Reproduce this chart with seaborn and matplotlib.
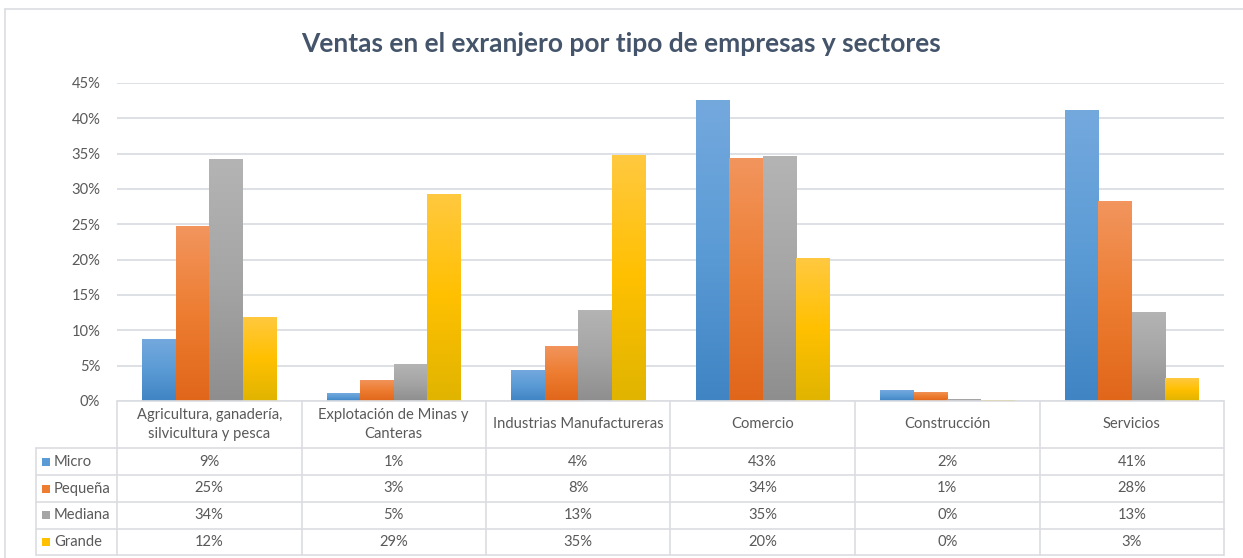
import numpy as np
import pandas as pd
import matplotlib
matplotlib.use("Agg")
import matplotlib.pyplot as plt
import seaborn as sns
from matplotlib.colors import LinearSegmentedColormap
from matplotlib.lines import Line2D
from matplotlib.patches import Rectangle
from matplotlib.ticker import PercentFormatter

# data (percent)
sectores = ["Agricultura, ganadería, silvicultura y pesca", "Explotación de Minas y Canteras",
            "Industrias Manufactureras", "Comercio", "Construcción", "Servicios"]
header_labels = ["Agricultura, ganadería,\nsilvicultura y pesca", "Explotación de Minas y\nCanteras",
                 "Industrias Manufactureras", "Comercio", "Construcción", "Servicios"]
tipos = ["Micro", "Pequeña", "Mediana", "Grande"]
micro = [8.8, 1.1, 4.4, 42.6, 1.55, 41.2]
pequena = [24.7, 3.0, 7.8, 34.4, 1.3, 28.3]
mediana = [34.2, 5.2, 12.9, 34.6, 0.3, 12.6]
grande = [11.9, 29.3, 34.8, 20.2, 0.15, 3.2]

# top / middle / bottom of the gradient fill
grad = {
    "Micro": ["#74A9DE", "#5B9BD5", "#4084C4"],
    "Pequeña": ["#F2955E", "#ED7D31", "#E0661A"],
    "Mediana": ["#B4B4B4", "#A5A5A5", "#8E8E8E"],
    "Grande": ["#FFC940", "#FFC000", "#E0B400"],
}

df = pd.DataFrame({"sector": sectores * 4,
                   "tipo": [t for t in tipos for _ in sectores],
                   "valor": micro + pequena + mediana + grande})

W, H = 1243, 558
def fx(px):
    return px / W
def fy(py):
    return 1 - py / H

sns.set_theme(style="white")
plt.rcParams["font.family"] = ["Lato", "DejaVu Sans"]
txt = "#595959"
line_c = "#DADDE2"
fs = 10.6

fig = plt.figure(figsize=(W / 100, H / 100), dpi=100)
ax = fig.add_axes([fx(117), fy(401), 1107 / W, 318 / H])

sns.barplot(data=df, x="sector", y="valor", hue="tipo", order=sectores, hue_order=tipos,
            palette=[grad[t][1] for t in tipos], width=0.727, gap=0, legend=False,
            errorbar=None, ax=ax, zorder=3)

# gradient fill for each bar
for cont, t in zip(ax.containers, tipos):
    cmap = LinearSegmentedColormap.from_list(t, grad[t][::-1])
    for bar in cont:
        x0, y0 = bar.get_x(), bar.get_y()
        w, h = bar.get_width(), bar.get_height()
        im = ax.imshow(np.linspace(0, 1, 256).reshape(-1, 1), cmap=cmap, origin="lower",
                       extent=[x0, x0 + w, y0, y0 + h], aspect="auto", zorder=3)
        im.set_clip_path(bar)
        bar.set_facecolor("none")
        bar.set_edgecolor("none")

ax.set_xlim(-0.5, len(sectores) - 0.5)
ax.set_ylim(0, 45)
ax.set_yticks(np.arange(0, 46, 5))
ax.yaxis.set_major_formatter(PercentFormatter(decimals=0))
ax.set_xticks([])
ax.set_xlabel("")
ax.set_ylabel("")
ax.grid(axis="y", color=line_c, lw=1.3, zorder=0)
ax.tick_params(axis="y", length=0, pad=12, labelsize=fs, labelcolor=txt)
for s in ax.spines.values():
    s.set_visible(False)

fig.text(0.5, fy(44), "Ventas en el exranjero por tipo de empresas y sectores",
         ha="center", va="center", fontsize=19, fontweight="bold", color="#44546A")

# data table under the chart
col_w = 184.5
cols = [117 + i * col_w for i in range(len(sectores) + 1)]
rows = [401, 448, 475, 502, 528.5, 555]

def hline(y, x0, x1):
    fig.add_artist(Line2D([fx(x0), fx(x1)], [fy(y), fy(y)], color=line_c, lw=1.2))

def vline(x, y0, y1):
    fig.add_artist(Line2D([fx(x), fx(x)], [fy(y0), fy(y1)], color=line_c, lw=1.2))

hline(rows[0], cols[0], cols[-1])
for y in rows[1:]:
    hline(y, 36, cols[-1])
for x in cols:
    vline(x, rows[0], rows[-1])
vline(36, rows[1], rows[-1])

for i, lab in enumerate(header_labels):
    fig.text(fx(cols[i] + col_w / 2), fy((rows[0] + rows[1]) / 2), lab, ha="center", va="center",
             fontsize=fs, color=txt, linespacing=1.4)

for r, (t, vals) in enumerate(zip(tipos, [micro, pequena, mediana, grande])):
    yc = (rows[r + 1] + rows[r + 2]) / 2
    fig.add_artist(Rectangle((fx(42), fy(yc + 4)), 8 / W, 8 / H, color=grad[t][1], lw=0))
    fig.text(fx(54), fy(yc), t, ha="left", va="center", fontsize=fs, color=txt)
    for i, v in enumerate(vals):
        fig.text(fx(cols[i] + col_w / 2), fy(yc), f"{round(v):d}%", ha="center", va="center",
                 fontsize=fs, color=txt)

# chart frame
fig.add_artist(Line2D([fx(5), fx(W)], [fy(9), fy(9)], color=line_c, lw=1.2))
fig.add_artist(Line2D([fx(5), fx(5)], [fy(9), fy(H)], color=line_c, lw=1.2))

fig.savefig("out.png", dpi=100)
